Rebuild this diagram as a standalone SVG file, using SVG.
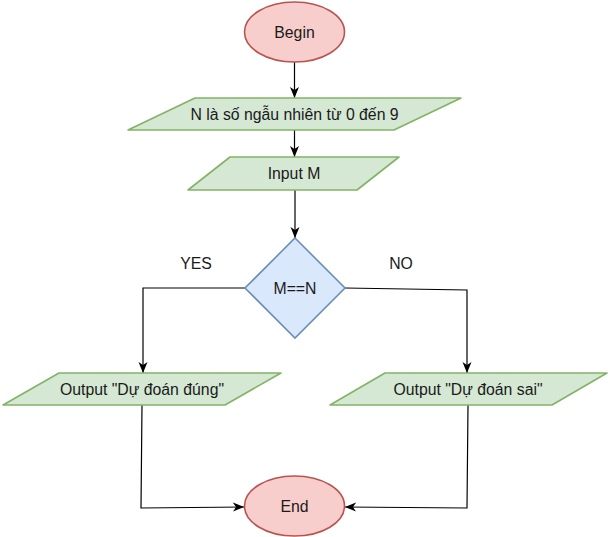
<svg xmlns="http://www.w3.org/2000/svg" width="610" height="537" viewBox="0 0 610 537">
<defs>
<marker id="arr" markerUnits="userSpaceOnUse" markerWidth="12" markerHeight="10" refX="11" refY="5" orient="auto">
<path d="M0,0.5 L11,5 L0,9.5 L3,5 Z" fill="#000"/>
</marker>
<style>
.term{fill:#f8cecc;stroke:#b85450;stroke-width:1.6}
.io{fill:#d5e8d4;stroke:#82b366;stroke-width:1.6;stroke-linejoin:round}
.dec{fill:#dae8fc;stroke:#6c8ebf;stroke-width:1.6}
text{font-family:"Liberation Sans",Arial,sans-serif;font-size:15.8px;fill:#1a1a1a;text-anchor:middle}
.conn path{fill:none;stroke:#000;stroke-width:1.2;marker-end:url(#arr)}
</style>
</defs>
<rect width="610" height="537" fill="#fff"/>
<g class="conn" id="connectors">
<path d="M294.5,62 L294.5,98"/>
<path d="M294.5,130 L294.5,157"/>
<path d="M295,190 L295,238"/>
<path d="M245,288 L143,288 L143,373"/>
<path d="M345,288 L467,290 L467,373"/>
<path d="M142,405 L141,508 L244,507"/>
<path d="M468,405 L467,508 L345,507"/>
</g>
<g id="begin">
<ellipse class="term" cx="294.5" cy="32" rx="50" ry="30"/>
<text x="294.5" y="37.5">Begin</text>
</g>
<g id="genN">
<path class="io" d="M128,130 L195,98 L461,98 L394,130 Z"/>
<text x="294.5" y="119.5">N là số ngẫu nhiên từ 0 đến 9</text>
</g>
<g id="inputM">
<path class="io" d="M188,190 L230,157 L399,157 L357,190 Z"/>
<text x="294" y="178.5">Input M</text>
</g>
<g id="decision">
<path class="dec" d="M295,238 L345,288 L295,338 L245,288 Z"/>
<text x="295" y="293.5">M==N</text>
</g>
<text x="196" y="268.5">YES</text>
<text x="401" y="268.5">NO</text>
<g id="outYes">
<path class="io" d="M3,405 L59,373 L281,373 L225,405 Z"/>
<text x="142" y="394.5">Output "Dự đoán đúng"</text>
</g>
<g id="outNo">
<path class="io" d="M330,405 L385,373 L607,373 L552,405 Z"/>
<text x="468" y="394.5">Output "Dự đoán sai"</text>
</g>
<g id="end">
<ellipse class="term" cx="294.5" cy="506" rx="50" ry="30"/>
<text x="294.5" y="511.5">End</text>
</g>
</svg>
